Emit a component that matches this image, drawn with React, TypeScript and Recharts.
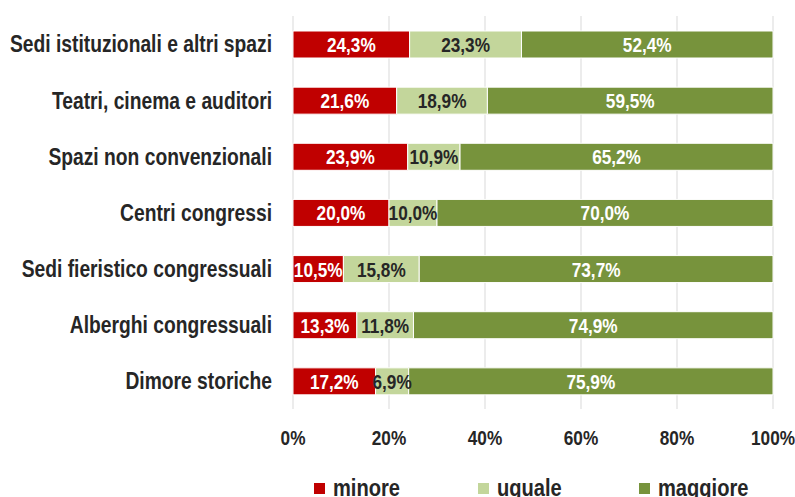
import React from "react";
import {
  BarChart,
  Bar,
  XAxis,
  YAxis,
  CartesianGrid,
  Legend,
  LabelList,
} from "recharts";

const categories = [
  "Sedi istituzionali e altri spazi",
  "Teatri, cinema e auditori",
  "Spazi non convenzionali",
  "Centri congressi",
  "Sedi fieristico congressuali",
  "Alberghi congressuali",
  "Dimore storiche",
];
const minore = [24.3, 21.6, 23.9, 20.0, 10.5, 13.3, 17.2];
const uguale = [23.3, 18.9, 10.9, 10.0, 15.8, 11.8, 6.9];
const maggiore = [52.4, 59.5, 65.2, 70.0, 73.7, 74.9, 75.9];
const xTicks = [0, 20, 40, 60, 80, 100];

// no Arial Narrow here, so squeeze Liberation Sans horizontally
const FONT = "'Liberation Sans', Arial, sans-serif";
const NARROW = 0.82;
const TEXT = "#262626";

const series = [
  { key: "minore", name: "minore", color: "#C00000", label: "#ffffff" },
  { key: "uguale", name: "uguale", color: "#C3D69B", label: TEXT },
  { key: "maggiore", name: "maggiore", color: "#77933C", label: "#ffffff" },
];

const data = categories.map((name, i) => ({
  name,
  minore: minore[i],
  uguale: uguale[i],
  maggiore: maggiore[i],
}));

const fmtPct = (v: number) => `${v.toFixed(1).replace(".", ",")}%`;

const CategoryTick = (props: any) => {
  const { x, y, payload } = props;
  return (
    <g transform={`translate(${x},${y}) scale(${NARROW},1)`}>
      <text
        x={0}
        y={0}
        dy="0.355em"
        textAnchor="end"
        fill={TEXT}
        fontFamily={FONT}
        fontWeight="bold"
        fontSize={23.5}
      >
        {payload.value}
      </text>
    </g>
  );
};

const PctTick = (props: any) => {
  const { x, y, payload } = props;
  return (
    <g transform={`translate(${x},${y}) scale(${NARROW},1)`}>
      <text
        x={0}
        y={0}
        dy="0.71em"
        textAnchor="middle"
        fill={TEXT}
        fontFamily={FONT}
        fontWeight="bold"
        fontSize={21}
      >
        {`${payload.value}%`}
      </text>
    </g>
  );
};

const makeBarLabel = (fill: string) => (props: any) => {
  const { x, y, width, height, value } = props;
  const cx = Number(x) + Number(width) / 2;
  const cy = Number(y) + Number(height) / 2;
  return (
    <g transform={`translate(${cx},${cy}) scale(${NARROW},1)`}>
      <text
        x={0}
        y={0}
        dy="0.355em"
        textAnchor="middle"
        fill={fill}
        fontFamily={FONT}
        fontWeight="bold"
        fontSize={21}
      >
        {fmtPct(Number(value))}
      </text>
    </g>
  );
};

// legend drawn by hand so the spacing matches the original
const legendLeft = [314, 478, 639];

const LegendContent = () => (
  <div style={{ position: "relative", height: 30, width: 795 }}>
    {series.map((s, i) => (
      <div
        key={s.key}
        style={{
          position: "absolute",
          left: legendLeft[i],
          top: 6,
          display: "flex",
          alignItems: "center",
          height: 30,
        }}
      >
        <span style={{ width: 11, height: 11, background: s.color, display: "inline-block" }} />
        <span
          style={{
            marginLeft: 8,
            fontFamily: FONT,
            fontWeight: "bold",
            fontSize: 24.5,
            color: TEXT,
            display: "inline-block",
            transform: `scaleX(${NARROW})`,
            transformOrigin: "left center",
            whiteSpace: "nowrap",
          }}
        >
          {s.name}
        </span>
      </div>
    ))}
  </div>
);

export default function App() {
  return (
    <div style={{ position: "absolute", left: 0, top: 0, background: "#fff", overflow: "hidden" }}>
      <BarChart
        width={795}
        height={497}
        data={data}
        layout="vertical"
        barSize={27}
        margin={{ top: 16, right: 22, bottom: 0, left: 0 }}
      >
        <CartesianGrid horizontal={false} stroke="#d9d9d9" />
        <XAxis
          type="number"
          domain={[0, 100]}
          ticks={xTicks}
          axisLine={false}
          tickLine={false}
          tickSize={0}
          tickMargin={21}
          height={58}
          interval={0}
          tick={<PctTick />}
        />
        <YAxis
          type="category"
          dataKey="name"
          width={293}
          axisLine={false}
          tickLine={false}
          tickSize={0}
          tickMargin={21}
          interval={0}
          tick={<CategoryTick />}
        />
        <Legend verticalAlign="bottom" content={<LegendContent />} />
        {series.map((s) => (
          <Bar
            key={s.key}
            dataKey={s.key}
            name={s.name}
            stackId="a"
            fill={s.color}
            stroke="#ffffff"
            strokeWidth={1}
            isAnimationActive={false}
          >
            <LabelList dataKey={s.key} content={makeBarLabel(s.label)} />
          </Bar>
        ))}
      </BarChart>
    </div>
  );
}
